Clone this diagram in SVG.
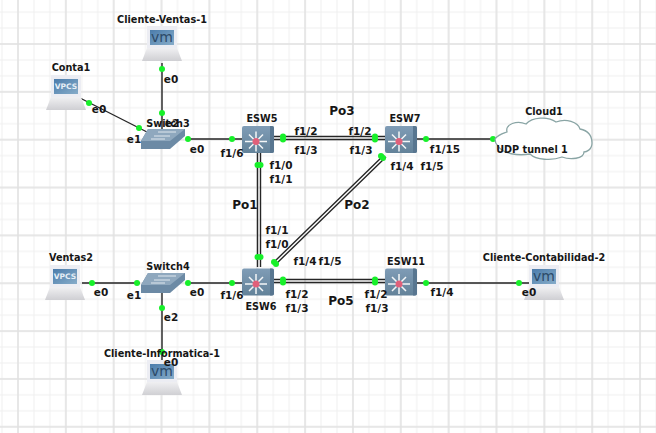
<svg xmlns="http://www.w3.org/2000/svg" width="656" height="433" viewBox="0 0 656 433">
<defs>
<style>
text{font-family:"DejaVu Sans",sans-serif;font-weight:bold}
.t{font-size:10.500px;fill:#161616;text-anchor:middle}
.n{font-size:9.700px;fill:#161616;text-anchor:middle}
.p{font-size:12px;fill:#161616;text-anchor:middle}
.vp{font-size:7.500px;fill:#e6eef6;text-anchor:middle}
.vm{font-size:14px;fill:#2c4a68;text-anchor:middle;font-weight:normal}
.l{stroke:#262626;stroke-width:1.400;fill:none}
.d{fill:#17f02a}
.g1{stroke:#efefef;stroke-width:1;fill:none}
.g2{stroke:#e2e2e2;stroke-width:1.500;fill:none}
</style>
<linearGradient id="sw" x1="0" y1="0" x2="0" y2="1"><stop offset="0" stop-color="#7f9cb6"/><stop offset="1" stop-color="#638299"/></linearGradient>
<linearGradient id="scr" x1="0" y1="0" x2="1" y2="1"><stop offset="0" stop-color="#4b7cab"/><stop offset="1" stop-color="#86acc9"/></linearGradient>
<linearGradient id="bs" x1="0" y1="0" x2="0" y2="1"><stop offset="0" stop-color="#f0f0f2"/><stop offset="1" stop-color="#cfcfd3"/></linearGradient>
<g id="esw">
<rect x="-16" y="-13.500" width="32" height="27" rx="2" fill="url(#sw)"/>
<path d="M12-13.500H14Q16-13.500 16-11.500V11.500Q16 13.500 14 13.500H12Z" fill="#587690"/>
<path d="M-13 2H9M-2-8V12M-9-5L5 9M-9 9L5-5" stroke="#f4f6f8" stroke-width="1.500"/>
<circle cx="-2" cy="2" r="3.500" fill="#e0607a"/>
</g>
<g id="lap">
<path d="M-15-15H15V7H-15Z" fill="#ecedf3"/>
<rect x="-12" y="-11" width="24" height="15" fill="url(#scr)"/>
<path d="M-15 7H15L20 20H-20Z" fill="url(#bs)"/>
</g>
<g id="l2">
<path d="M-21 2L-14-10H23V-3L8 10H-21Z" fill="#6c8aa5"/>
<path d="M-21 2L-14-10H23L8 2Z" fill="#8fa8be"/>
<path d="M-11 0H3M-8-3H8M-4-7H14" stroke="#dfe7ee" stroke-width="1"/>
</g>
<pattern id="gr" width="15.950" height="15.950" patternUnits="userSpaceOnUse" x="10.020" y="36.020"><path d="M7.975 0V15.950M0 7.975H15.950" class="g1"/></pattern>
<pattern id="gm" width="47.850" height="47.850" patternUnits="userSpaceOnUse" x="10.020" y="36.020"><path d="M7.975 0V47.850M0 7.975H47.850" class="g2"/></pattern>
</defs>
<rect width="656" height="433" fill="#fff"/>
<g id="grid"><rect width="656" height="433" fill="url(#gr)"/><rect width="656" height="433" fill="url(#gm)"/></g>
<g id="connectors">
<path class="l" d="M162 63V130M80 98L147 132M188 139H242M162 292V360M82 283H140M188 283H242M274 136.500H385M274 139.500H385M257.500 153V267M260.500 153V267M384 155L273 263M386 157L275 265M274 279.500H385M274 282.500H385M417 139H494M417 283H529"/>
<g class="d">
<circle cx="162" cy="69" r="3"/><circle cx="162" cy="113" r="3"/>
<circle cx="89" cy="103" r="3"/><circle cx="139" cy="128" r="3"/>
<circle cx="188" cy="139" r="3"/><circle cx="232" cy="139" r="3"/>
<circle cx="283" cy="136.500" r="3"/><circle cx="283" cy="139.500" r="3"/>
<circle cx="375" cy="136.500" r="3"/><circle cx="375" cy="139.500" r="3"/>
<circle cx="257.500" cy="165" r="3"/><circle cx="260.500" cy="165" r="3"/>
<circle cx="257.500" cy="257" r="3"/><circle cx="260.500" cy="257" r="3"/>
<circle cx="381" cy="156" r="3"/><circle cx="383" cy="158" r="3"/>
<circle cx="274" cy="262" r="3"/><circle cx="276" cy="264" r="3"/>
<circle cx="426" cy="139" r="3"/><circle cx="493" cy="139" r="3"/>
<circle cx="92" cy="283" r="3"/><circle cx="137" cy="283" r="3"/>
<circle cx="188" cy="283" r="3"/><circle cx="232" cy="283" r="3"/>
<circle cx="162" cy="308" r="3"/><circle cx="162" cy="352" r="3"/>
<circle cx="283" cy="279.500" r="3"/><circle cx="283" cy="282.500" r="3"/>
<circle cx="375" cy="279.500" r="3"/><circle cx="375" cy="282.500" r="3"/>
<circle cx="426" cy="283" r="3"/><circle cx="519" cy="283" r="3"/>
</g>
</g>
<g id="Cliente-Ventas-1"><use href="#lap" x="162" y="41"/><text x="162" y="42" class="vm">vm</text><text x="162" y="23" class="n">Cliente-Ventas-1</text><text x="171" y="83" class="t">e0</text></g>
<g id="Conta1"><use href="#lap" x="66" y="90"/><text x="66" y="89" class="vp">VPCS</text><text x="71" y="71" class="n">Conta1</text><text x="99" y="113" class="t">e0</text></g>
<g id="Switch3"><use href="#l2" x="162" y="139"/><text x="168" y="127" class="n">Switch3</text><text x="172" y="127" class="t">e2</text><text x="134" y="143" class="t">e1</text><text x="197" y="153" class="t">e0</text></g>
<g id="ESW5"><use href="#esw" x="258" y="139.500"/><text x="262" y="122" class="n">ESW5</text></g>
<g id="ESW7"><use href="#esw" x="401" y="139.500"/><text x="405" y="122" class="n">ESW7</text></g>
<g id="ESW6"><use href="#esw" x="258" y="282"/><text x="261" y="310" class="n">ESW6</text></g>
<g id="ESW11"><use href="#esw" x="401" y="282"/><text x="406" y="265" class="n">ESW11</text></g>
<g id="Ventas2"><use href="#lap" x="65" y="280"/><text x="65" y="279" class="vp">VPCS</text><text x="71" y="261" class="n">Ventas2</text></g>
<g id="Switch4"><use href="#l2" x="162" y="283"/><text x="168" y="270" class="n">Switch4</text></g>
<g id="Cliente-Informatica-1"><use href="#lap" x="162" y="375"/><text x="162" y="376" class="vm">vm</text><text x="162" y="357" class="n">Cliente-Informatica-1</text></g>
<g id="Cliente-Contabilidad-2"><use href="#lap" x="544" y="280"/><text x="544" y="281" class="vm">vm</text><text x="544" y="261" class="n">Cliente-Contabilidad-2</text></g>
<g id="Cloud1"><path d="M495 139C499 134 505 133 507 132C505 124 517 120 526 124C532 117 548 116 556 122C566 118 578 122 580 129C590 131 592 138 592 143C592 150 586 152 584 152C584 159 570 160 562 157C552 161 536 160 530 154C518 156 503 154 498 146C496 144 495 141 495 139Z" fill="#fff" stroke="#8aa5a5" stroke-width="1.300"/><text x="544" y="115" class="n">Cloud1</text><text x="532" y="153" class="n">UDP tunnel 1</text></g>
<g id="labels">
<text class="p" x="342" y="115">Po3</text>
<text class="p" x="245" y="209">Po1</text>
<text class="p" x="357" y="209">Po2</text>
<text class="p" x="341" y="305">Po5</text>
<text class="t" x="232" y="157">f1/6</text><text class="t" x="306" y="135">f1/2</text><text class="t" x="306" y="154">f1/3</text><text class="t" x="360" y="135">f1/2</text><text class="t" x="361" y="154">f1/3</text>
<text class="t" x="281" y="169">f1/0</text><text class="t" x="281" y="183">f1/1</text>
<text class="t" x="277" y="234">f1/1</text><text class="t" x="277" y="248">f1/0</text>
<text class="t" x="402" y="170">f1/4</text><text class="t" x="432" y="170">f1/5</text><text class="t" x="445" y="153">f1/15</text>
<text class="t" x="101" y="296">e0</text><text class="t" x="134" y="299">e1</text><text class="t" x="197" y="296">e0</text><text class="t" x="232" y="299">f1/6</text><text class="t" x="171" y="321">e2</text><text class="t" x="171" y="366">e0</text>
<text class="t" x="305" y="265">f1/4</text><text class="t" x="330" y="265">f1/5</text>
<text class="t" x="297" y="298">f1/2</text><text class="t" x="297" y="312">f1/3</text><text class="t" x="376" y="298">f1/2</text><text class="t" x="377" y="312">f1/3</text><text class="t" x="442" y="296">f1/4</text><text class="t" x="529" y="296">e0</text>
</g>
</svg>
